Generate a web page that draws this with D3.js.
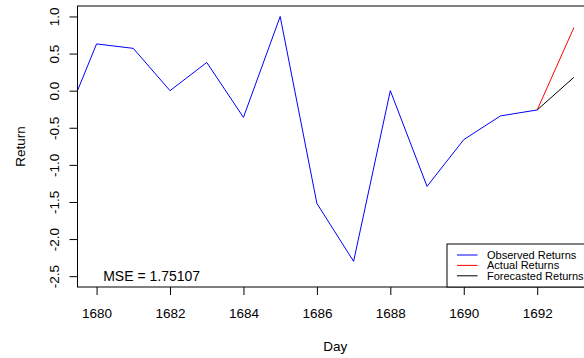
<!DOCTYPE html>
<html><head><meta charset="utf-8">
<script src="https://cdn.jsdelivr.net/npm/d3@7"></script>
<style>body{margin:0;background:#fff}svg{display:block}text{font-family:"Liberation Sans",Arial,sans-serif;fill:#000}</style>
</head><body>
<script>
const observedDays = [1679,1680,1681,1682,1683,1684,1685,1686,1687,1688,1689,1690,1691,1692];
const observedValues = [-0.58,0.63,0.57,0.0,0.38,-0.36,1.0,-1.52,-2.30,0.0,-1.29,-0.66,-0.34,-0.26];
const actualDays = [1692,1693];
const actualValues = [-0.26,0.85];
const forecastDays = [1692,1693];
const forecastValues = [-0.26,0.18];
const xTicks = [1680,1682,1684,1686,1688,1690,1692];
const yTicks = [-2.5,-2.0,-1.5,-1.0,-0.5,0.0,0.5,1.0];
const legendLabels = ["Observed Returns","Actual Returns","Forecasted Returns"];
const legendColors = ["#0000ff","#ff0000","#000000"];
const mseLabel = "MSE = 1.75107";
const msePos = [1681.5,-2.5];

const W=584,H=358;
const L=77.5,R=593,T=6,B=287;
const svg=d3.select("body").append("svg").attr("width",W).attr("height",H);
const x=d3.scaleLinear().domain([1679.48,1693.52]).range([L,R]);
const y=d3.scaleLinear().domain([-2.646,1.141]).range([B,T]);

svg.append("clipPath").attr("id","clip").append("rect").attr("x",L).attr("y",T).attr("width",R-L).attr("height",B-T);
const g=svg.append("g").attr("clip-path","url(#clip)");
const line=d3.line().x(d=>x(d[0])).y(d=>y(d[1]));
function draw(days,vals,col){
  g.append("path").datum(days.map((d,i)=>[d,vals[i]])).attr("d",line).attr("fill","none").attr("stroke",col).attr("stroke-width",1);
}
draw(observedDays,observedValues,legendColors[0]);
draw(actualDays,actualValues,legendColors[1]);
draw(forecastDays,forecastValues,legendColors[2]);

// axes
const xa=svg.append("g").attr("transform",`translate(0,${B})`)
  .call(d3.axisBottom(x).tickValues(xTicks).tickSize(8).tickPadding(13).tickFormat(d3.format("d")));
xa.select(".domain").remove();
xa.selectAll("line").attr("stroke","#000");
xa.selectAll("text").attr("font-size","13.5px").attr("fill","#000");

const ya=svg.append("g").attr("transform",`translate(${L},0)`)
  .call(d3.axisLeft(y).tickValues(yTicks).tickSize(8).tickFormat(d3.format(".1f")));
ya.select(".domain").remove();
ya.selectAll("line").attr("stroke","#000");
ya.selectAll("text").remove();
ya.selectAll(".tick").append("text")
  .attr("transform","translate(-19,0) rotate(-90)")
  .attr("text-anchor","middle").attr("font-size","13.5px").attr("fill","#000")
  .text(d=>d3.format(".1f")(d).replace("\u2212","-"));

// box
svg.append("rect").attr("x",L).attr("y",T).attr("width",R-L).attr("height",B-T)
  .attr("fill","none").attr("stroke","#000").attr("stroke-width",1);

// titles
svg.append("text").attr("x",(L+R)/2).attr("y",351).attr("text-anchor","middle").attr("font-size","13.5px").text("Day");
svg.append("text").attr("transform",`translate(25,${(T+B)/2}) rotate(-90)`).attr("text-anchor","middle").attr("font-size","13.5px").text("Return");

// MSE
svg.append("text").attr("x",x(msePos[0])).attr("y",y(msePos[1])).attr("dy","0.35em")
  .attr("text-anchor","middle").attr("font-size","14px").text(mseLabel);

// legend
const lgW=146,lgH=43;
const lg=svg.append("g").attr("transform",`translate(${R-lgW},${B-lgH})`);
lg.append("rect").attr("width",lgW).attr("height",lgH).attr("fill","#fff").attr("stroke","#000").attr("stroke-width",1);
legendLabels.forEach((lab,i)=>{
  const yy=11+i*10.4;
  lg.append("line").attr("x1",10).attr("x2",30.5).attr("y1",yy).attr("y2",yy).attr("stroke",legendColors[i]).attr("stroke-width",1);
  lg.append("text").attr("x",40).attr("y",yy).attr("dy","0.35em").attr("font-size","11px").text(lab);
});
</script>
</body></html>
